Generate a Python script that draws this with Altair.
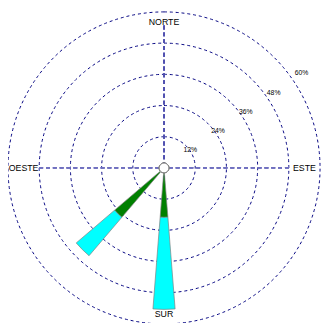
import math
import altair as alt
import pandas as pd

# ---- data ----
wedge_dirs = ["SUR", "SUROESTE"]
wedge_angles = [180, 225]          # degrees clockwise from north
inner_pct = [19, 25]               # green (inner) band, %
total_pct = [54.4, 44.4]           # cumulative total (cyan outer end), %
band_colors = ["#008000", "#00ffff"]

ring_pcts = [12, 24, 36, 48, 60]
ring_labels = ["12%", "24%", "36%", "48%", "60%"]

compass_ns = ["NORTE", "SUR"]
compass_ns_angles = [0, 180]
compass_ew = ["ESTE", "OESTE"]
compass_ew_angles = [90, 270]

HALF = 4.5  # half angular width of a wedge (deg)
TAU = 2 * math.pi
CX, CY = 160, 160  # centre of the rose inside the view

rows = []
for d, a, g, t in zip(wedge_dirs, wedge_angles, inner_pct, total_pct):
    rows.append(dict(dir=d, a0=a - HALF, a1=a + HALF, r0=0, r1=g, band="inner"))
    rows.append(dict(dir=d, a0=a - HALF, a1=a + HALF, r0=g, r1=t, band="outer"))
wedges = pd.DataFrame(rows)
rings = pd.DataFrame({"p": ring_pcts, "lab": ring_labels})
ns = pd.DataFrame({"name": compass_ns, "ang": compass_ns_angles})
ew = pd.DataFrame({"name": compass_ew, "ang": compass_ew_angles})

th_scale = alt.Scale(domain=[0, 360], range=[0, TAU])
r_scale = alt.Scale(type="linear", domain=[0, 60], range=[0, 160], zero=True)
lab_scale = alt.Scale(type="linear", domain=[0, 60], range=[-2, 171], zero=False)

cx = alt.value(CX)
cy = alt.value(CY)

ring_layer = alt.Chart(rings).mark_arc(
    filled=False, stroke="#000080", strokeWidth=1, strokeDash=[3, 3],
    theta=0, theta2=6.2832,
).encode(radius=alt.Radius("p:Q", scale=r_scale, stack=False), x=cx, y=cy)

hline = alt.Chart(rings).mark_rule(
    color="#7070c0", strokeWidth=1.2, strokeDash=[4, 3]
).encode(x=alt.value(CX - 128), x2=alt.value(CX + 130), y=cy)
vline = alt.Chart(rings).mark_rule(
    color="#5050b0", strokeWidth=1.2, strokeDash=[4, 3]
).encode(y=alt.value(CY - 146), y2=alt.value(CY + 144), x=cx)

wedge_layer = alt.Chart(wedges).mark_arc(
    stroke="#808080", strokeWidth=0.7
).encode(
    theta=alt.Theta("a0:Q", scale=th_scale, stack=False),
    theta2="a1:Q",
    radius=alt.Radius("r1:Q", scale=r_scale, stack=False),
    radius2="r0:Q",
    color=alt.Color("band:N", scale=alt.Scale(domain=["inner", "outer"], range=band_colors), legend=None),
    x=cx, y=cy,
)

hub = alt.Chart(rings).mark_arc(
    fill="white", stroke="#808080", strokeWidth=1, theta=0, theta2=6.2832
).encode(radius=alt.value(5), x=cx, y=cy)

pct_text = alt.Chart(rings).mark_text(
    font="Liberation Sans", fontSize=7, color="black"
).encode(
    theta=alt.value(55.5 * math.pi / 180),
    radius=alt.Radius("p:Q", scale=lab_scale, stack=False),
    text="lab:N",
    x=cx, y=cy,
)

ns_text = alt.Chart(ns).mark_text(
    font="Liberation Sans", fontSize=9, color="black"
).encode(
    theta=alt.Theta("ang:Q", scale=th_scale, stack=False),
    radius=alt.value(150),
    text="name:N",
    x=cx, y=cy,
)
ew_text = alt.Chart(ew).mark_text(
    font="Liberation Sans", fontSize=9, color="black"
).encode(
    theta=alt.Theta("ang:Q", scale=th_scale, stack=False),
    radius=alt.value(144),
    text="name:N",
    x=cx, y=cy,
)

chart = alt.layer(
    ring_layer, hline, vline, wedge_layer, hub, pct_text, ns_text, ew_text
).resolve_scale(radius="independent", theta="independent").properties(
    width=322, height=315, padding=0, autosize="none", background="white"
).configure_view(stroke=None)

chart.save("out.html", embed_options={"renderer": "svg", "actions": False})
